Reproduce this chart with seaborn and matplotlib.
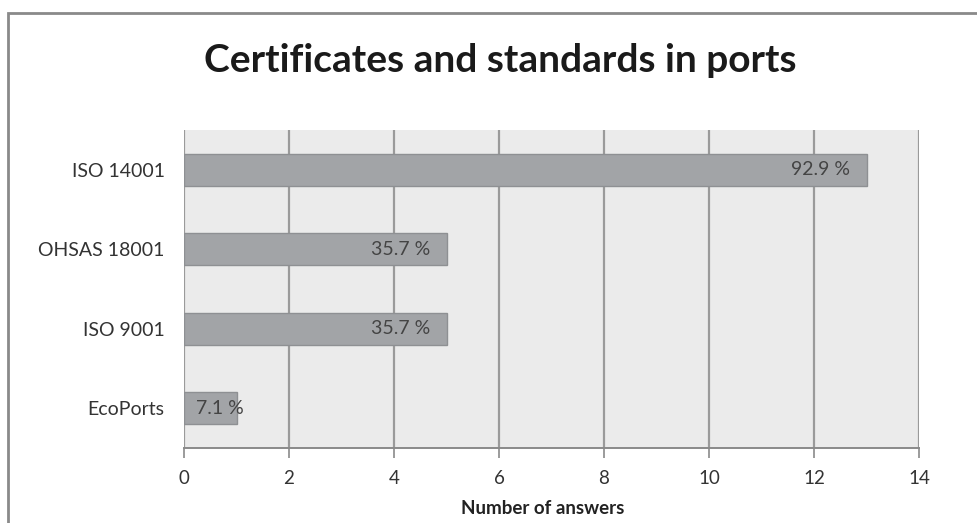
import matplotlib
matplotlib.use("Agg")
import matplotlib.pyplot as plt
import seaborn as sns
import pandas as pd
from matplotlib.patches import Rectangle

categories = ["ISO 14001", "OHSAS 18001", "ISO 9001", "EcoPorts"]
answers = [13, 5, 5, 1]
pct_labels = ["92.9 %", "35.7 %", "35.7 %", "7.1 %"]
x_ticks = [0, 2, 4, 6, 8, 10, 12, 14]

sns.set_theme(style="white")
plt.rcParams['font.family'] = ['Lato', 'DejaVu Sans']

df = pd.DataFrame({"cat": categories, "n": answers})

fig = plt.figure(figsize=(9.77, 5.23), dpi=100)
fig.patch.set_facecolor("white")
ax = fig.add_axes([184/977, 1-448/523, (919-184)/977, (448-130)/523])
ax.set_facecolor("#ebebeb")

sns.barplot(data=df, x="n", y="cat", order=categories, color="#a2a4a7",
            width=0.4, saturation=1, edgecolor="#8e9093", linewidth=1.0, ax=ax)

ax.set_xlim(0, 14)
ax.set_ylim(3.5, -0.5)
ax.set_xticks(x_ticks)
ax.set_xticklabels([str(t) for t in x_ticks], fontsize=13.5, color="#333333")
ax.tick_params(axis="y", labelsize=14, labelcolor="#333333", length=0, pad=14)
ax.tick_params(axis="x", length=7, width=1.2, color="#8a8a8a", direction="out", pad=9, bottom=True)
ax.set_axisbelow(True)
ax.grid(axis="x", color="#9a9a9a", linewidth=1.6)
ax.grid(axis="y", visible=False)
for s in ["top", "right", "left"]:
    ax.spines[s].set_visible(False)
ax.spines["bottom"].set_color("#8a8a8a")
ax.spines["bottom"].set_linewidth(1.4)

ax.set_ylabel("")
ax.set_xlabel("Number of answers", fontsize=13.5, fontweight="bold", color="#222222")
ax.xaxis.label.set_va("center")
ax.xaxis.set_label_coords((543-184)/(919-184), -(509-448)/(448-130))

for i, (v, lab) in enumerate(zip(answers, pct_labels)):
    if v >= 3:
        ax.annotate(lab, xy=(v, i), xytext=(-12, 0), textcoords="offset points",
                    ha="right", va="center", fontsize=14, color="#444444")
    else:
        ax.annotate(lab, xy=(0, i), xytext=(9, 0), textcoords="offset points",
                    ha="left", va="center", fontsize=14, color="#444444")

fig.text(500/977, 1-60/523, "Certificates and standards in ports", ha="center", va="center",
         fontsize=28, fontweight="bold", color="#1a1a1a")

# outer chart frame (cropped at right/bottom)
fig.patches.append(Rectangle((8/977, -0.1), 1.2, 1-13/523+0.1, transform=fig.transFigure,
                             fill=False, edgecolor="#8a8a8a", linewidth=2.0, zorder=0))

fig.savefig("out.png", dpi=100)
